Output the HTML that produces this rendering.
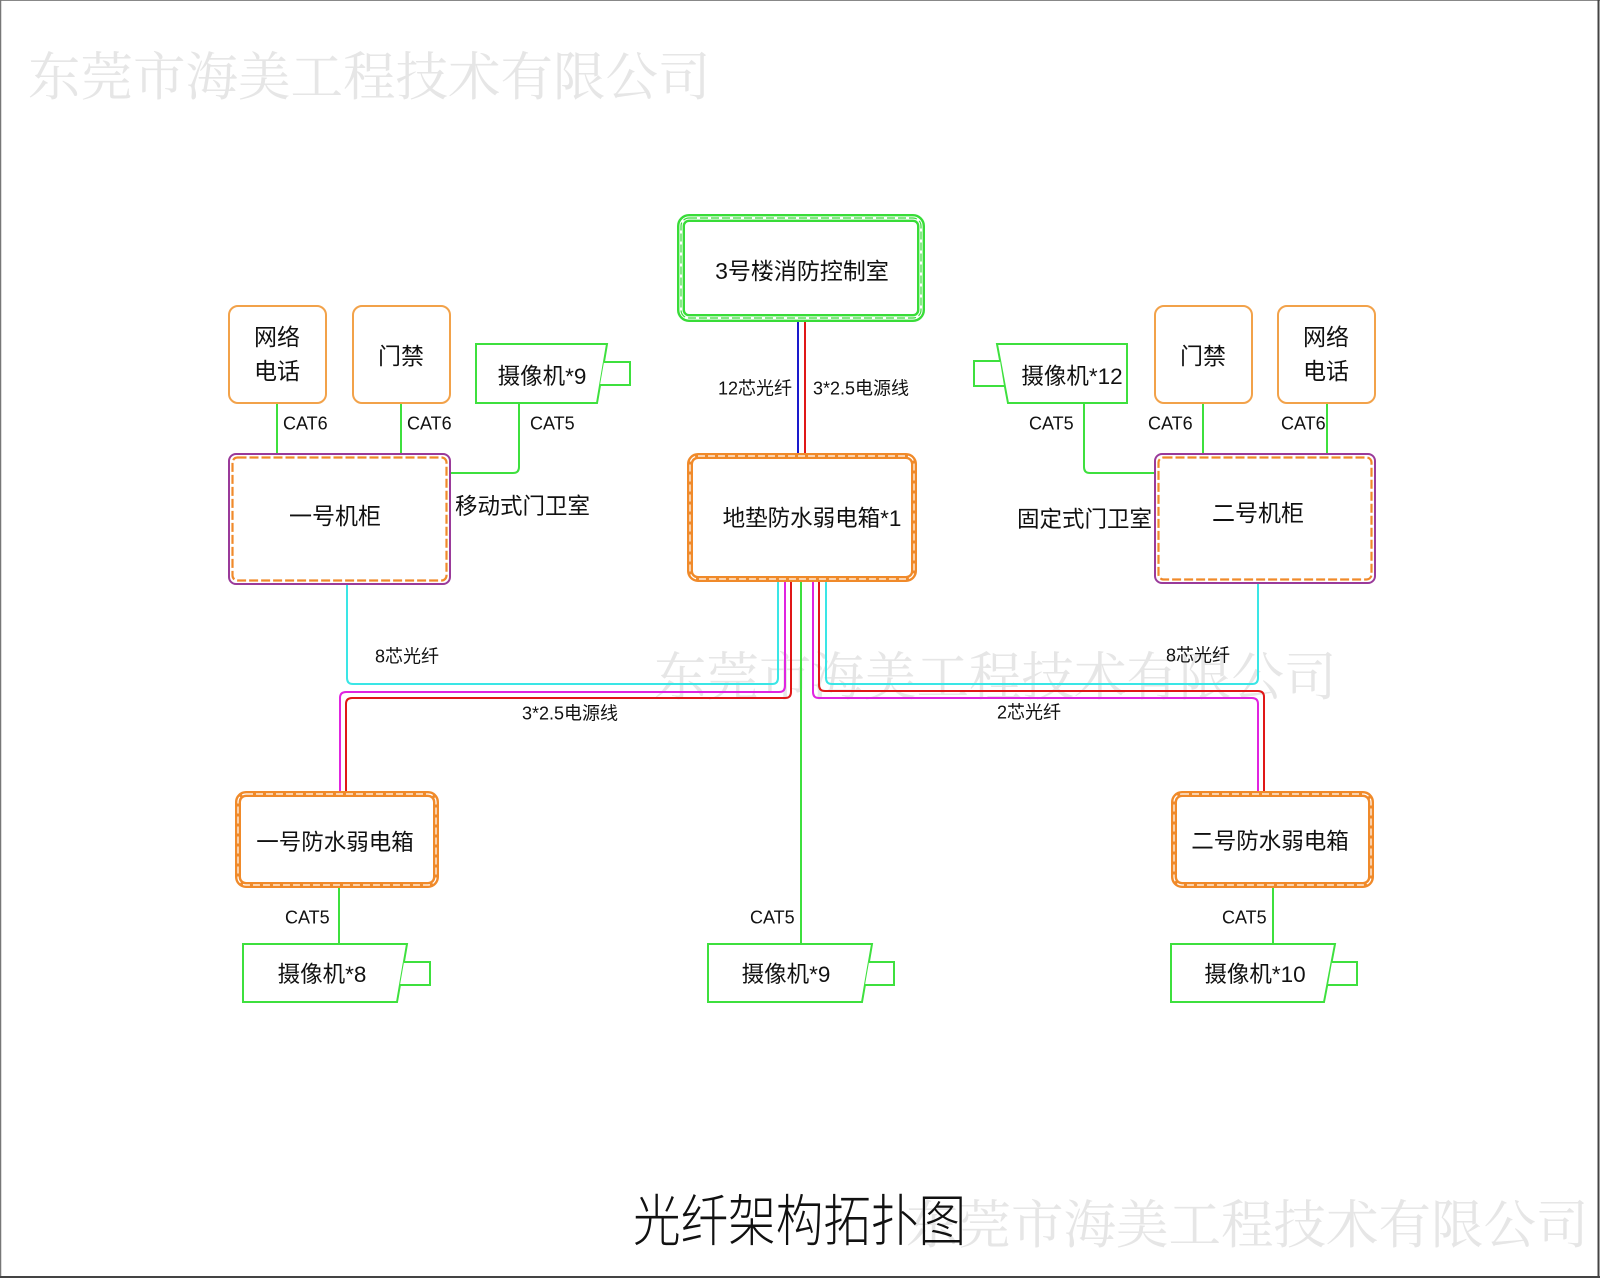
<!DOCTYPE html>
<html>
<head>
<meta charset="utf-8">
<style>
html,body{margin:0;padding:0;background:#fff;}
body{width:1600px;height:1278px;overflow:hidden;}
svg{display:block;}
.t{font-family:"Liberation Sans","Noto Sans CJK SC",sans-serif;fill:#111;}
.wm{font-family:"Noto Serif CJK SC","Liberation Serif",serif;fill:#e6e6e6;}
</style>
</head>
<body>
<svg width="1600" height="1278" viewBox="0 0 1600 1278" xmlns="http://www.w3.org/2000/svg">
<rect x="0" y="0" width="1600" height="1278" fill="#fff"/>

<!-- watermarks -->
<text class="wm" x="28" y="95" font-size="52.5">东莞市海美工程技术有限公司</text>
<text class="wm" x="654" y="695" font-size="52.5">东莞市海美工程技术有限公司</text>
<text class="wm" x="906" y="1243" font-size="52.5">东莞市海美工程技术有限公司</text>

<!-- frame -->
<line x1="0" y1="0.5" x2="1600" y2="0.5" stroke="#888" stroke-width="1"/>
<line x1="0.5" y1="0" x2="0.5" y2="1278" stroke="#777" stroke-width="1.5"/>
<line x1="1598.5" y1="0" x2="1598.5" y2="1278" stroke="#444" stroke-width="2"/>
<line x1="0" y1="1277" x2="1600" y2="1277" stroke="#444" stroke-width="2"/>

<!-- ===== connectors ===== -->
<g fill="none" stroke-width="2">
  <line x1="798" y1="322" x2="798" y2="454" stroke="#1a1acc"/>
  <line x1="805" y1="322" x2="805" y2="454" stroke="#e01818"/>

  <line x1="277" y1="403" x2="277" y2="454" stroke="#3ee03e"/>
  <line x1="401" y1="403" x2="401" y2="454" stroke="#3ee03e"/>
  <path d="M519 403 V467 Q519 473 513 473 H450" stroke="#3ee03e"/>
  <line x1="1203" y1="403" x2="1203" y2="454" stroke="#3ee03e"/>
  <line x1="1327" y1="403" x2="1327" y2="454" stroke="#3ee03e"/>
  <path d="M1084 403 V467 Q1084 473 1090 473 H1155" stroke="#3ee03e"/>

  <path d="M778 582 V678 Q778 684 772 684 H353 Q347 684 347 678 V585" stroke="#3ae6e6"/>
  <path d="M826 582 V678 Q826 684 832 684 H1252 Q1258 684 1258 678 V584" stroke="#3ae6e6"/>
  <path d="M785 582 V686 Q785 692 779 692 H346 Q340 692 340 698 V792" stroke="#e024e0"/>
  <path d="M813 582 V692 Q813 698 819 698 H1252 Q1258 698 1258 704 V792" stroke="#e024e0"/>
  <path d="M791 582 V692 Q791 698 785 698 H352 Q346 698 346 704 V792" stroke="#e01818"/>
  <path d="M819 582 V685 Q819 691 825 691 H1258 Q1264 691 1264 697 V792" stroke="#e01818"/>
  <line x1="801" y1="582" x2="801" y2="944" stroke="#3ee03e"/>
  <line x1="339" y1="888" x2="339" y2="944" stroke="#3ee03e"/>
  <line x1="1273" y1="888" x2="1273" y2="944" stroke="#3ee03e"/>
</g>

<!-- ===== control room ===== -->
<rect x="681" y="218" width="240" height="100" rx="8" fill="#fff" stroke="#38dc38" stroke-width="8"/>
<rect x="681" y="218" width="240" height="100" rx="8" fill="none" stroke="#fff" stroke-width="3.2"/>
<rect x="681" y="218" width="240" height="100" rx="8" fill="none" stroke="#38dc38" stroke-width="1.2" stroke-dasharray="8 3"/>
<text class="t" x="802" y="279" font-size="23" text-anchor="middle">3号楼消防控制室</text>

<!-- ===== main box ===== -->
<rect x="690" y="456" width="224" height="123" rx="8" fill="#fff" stroke="#f08a2a" stroke-width="6"/>
<rect x="690" y="456" width="224" height="123" rx="8" fill="none" stroke="#fff" stroke-width="1.2" stroke-dasharray="7 3"/>
<text class="t" x="812" y="526" font-size="22.5" text-anchor="middle">地垫防水弱电箱*1</text>

<!-- ===== small orange boxes ===== -->
<g fill="#fff" stroke="#f2a24a" stroke-width="2">
  <rect x="229" y="306" width="97" height="97" rx="9"/>
  <rect x="353" y="306" width="97" height="97" rx="9"/>
  <rect x="1155" y="306" width="97" height="97" rx="9"/>
  <rect x="1278" y="306" width="97" height="97" rx="9"/>
</g>
<text class="t" x="277" y="345" font-size="23" text-anchor="middle">网络</text>
<text class="t" x="277" y="379" font-size="23" text-anchor="middle">电话</text>
<text class="t" x="401" y="364" font-size="23" text-anchor="middle">门禁</text>
<text class="t" x="1203" y="364" font-size="23" text-anchor="middle">门禁</text>
<text class="t" x="1326" y="345" font-size="23" text-anchor="middle">网络</text>
<text class="t" x="1326" y="379" font-size="23" text-anchor="middle">电话</text>

<!-- ===== cabinets ===== -->
<rect x="229" y="454" width="221" height="130" rx="7" fill="#fff" stroke="#9a3a9a" stroke-width="2"/>
<rect x="232.5" y="457.5" width="214" height="123" rx="5" fill="none" stroke="#f08a2a" stroke-width="2.2" stroke-dasharray="9 3"/>
<text class="t" x="335" y="524" font-size="23" text-anchor="middle">一号机柜</text>

<rect x="1155" y="454" width="220" height="129" rx="7" fill="#fff" stroke="#9a3a9a" stroke-width="2"/>
<rect x="1158.5" y="457.5" width="213" height="122" rx="5" fill="none" stroke="#f08a2a" stroke-width="2.2" stroke-dasharray="9 3"/>
<text class="t" x="1258" y="521" font-size="23" text-anchor="middle">二号机柜</text>

<text class="t" x="455" y="514" font-size="22.5">移动式门卫室</text>
<text class="t" x="1017" y="527" font-size="22.5">固定式门卫室</text>

<!-- ===== top cameras ===== -->
<g fill="#fff" stroke="#3ee03e" stroke-width="2">
  <path d="M476 344 H607 L597 403 H476 Z"/>
  <path d="M604 362 H630 V385 H600"/>
  <path d="M997 344 H1127 V403 H1008 Z"/>
  <path d="M1000 361 H974 V386 H1004"/>
</g>
<text class="t" x="542" y="384" font-size="22.5" text-anchor="middle">摄像机*9</text>
<text class="t" x="1072" y="384" font-size="22.5" text-anchor="middle">摄像机*12</text>

<g class="t" font-size="18">
  <text x="283" y="429.5">CAT6</text>
  <text x="407" y="429.5">CAT6</text>
  <text x="530" y="429.5">CAT5</text>
  <text x="1029" y="429.5">CAT5</text>
  <text x="1148" y="429.5">CAT6</text>
  <text x="1281" y="429.5">CAT6</text>
</g>

<g class="t" font-size="18">
  <text x="792" y="394.5" text-anchor="end">12芯光纤</text>
  <text x="813" y="394.5">3*2.5电源线</text>
  <text x="375" y="662.5">8芯光纤</text>
  <text x="1166" y="661.5">8芯光纤</text>
  <text x="522" y="719.5">3*2.5电源线</text>
  <text x="997" y="718.5">2芯光纤</text>
</g>

<!-- ===== bottom boxes ===== -->
<rect x="238" y="794" width="198" height="91" rx="8" fill="#fff" stroke="#f08a2a" stroke-width="6"/>
<rect x="238" y="794" width="198" height="91" rx="8" fill="none" stroke="#fff" stroke-width="1.2" stroke-dasharray="7 3"/>
<text class="t" x="335" y="850" font-size="22.5" text-anchor="middle">一号防水弱电箱</text>

<rect x="1174" y="794" width="197" height="91" rx="8" fill="#fff" stroke="#f08a2a" stroke-width="6"/>
<rect x="1174" y="794" width="197" height="91" rx="8" fill="none" stroke="#fff" stroke-width="1.2" stroke-dasharray="7 3"/>
<text class="t" x="1270" y="849" font-size="22.5" text-anchor="middle">二号防水弱电箱</text>

<g class="t" font-size="18">
  <text x="285" y="923.5">CAT5</text>
  <text x="750" y="923.5">CAT5</text>
  <text x="1222" y="923.5">CAT5</text>
</g>

<!-- ===== bottom cameras ===== -->
<g fill="#fff" stroke="#3ee03e" stroke-width="2">
  <path d="M243 944 H407 L397 1002 H243 Z"/>
  <path d="M404 962 H430 V985 H400"/>
  <path d="M708 944 H872 L862 1002 H708 Z"/>
  <path d="M869 962 H894 V985 H865"/>
  <path d="M1171 944 H1335 L1324 1002 H1171 Z"/>
  <path d="M1332 962 H1357 V985 H1328"/>
</g>
<text class="t" x="322" y="982" font-size="22.5" text-anchor="middle">摄像机*8</text>
<text class="t" x="786" y="982" font-size="22.5" text-anchor="middle">摄像机*9</text>
<text class="t" x="1255" y="982" font-size="22.5" text-anchor="middle">摄像机*10</text>

<!-- title -->
<g transform="translate(633,1241) scale(0.85,1)">
  <text class="t" x="0" y="0" font-size="56" font-weight="300">光纤架构拓扑图</text>
</g>
</svg>
</body>
</html>
